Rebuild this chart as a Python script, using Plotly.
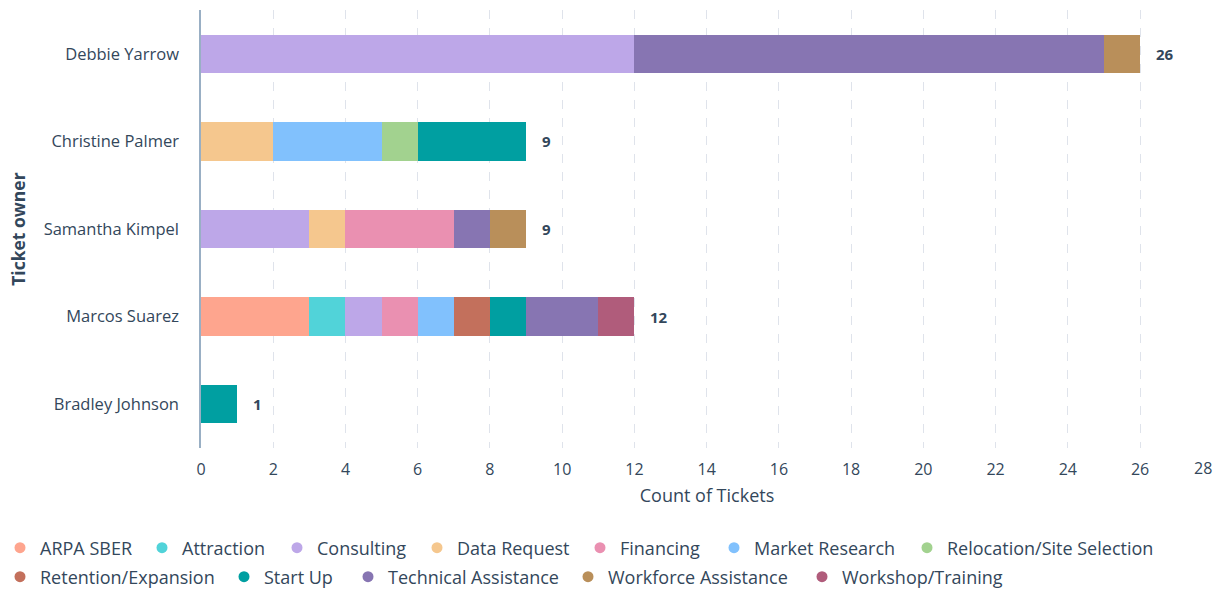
import plotly.graph_objects as go

owners = ["Bradley Johnson", "Marcos Suarez", "Samantha Kimpel", "Christine Palmer", "Debbie Yarrow"]

categories = ["ARPA SBER", "Attraction", "Consulting", "Data Request", "Financing",
              "Market Research", "Relocation/Site Selection", "Retention/Expansion",
              "Start Up", "Technical Assistance", "Workforce Assistance", "Workshop/Training"]

# values per category, in owner order above
arpa_sber = [0, 3, 0, 0, 0]
attraction = [0, 1, 0, 0, 0]
consulting = [0, 1, 3, 0, 12]
data_request = [0, 0, 1, 2, 0]
financing = [0, 1, 3, 0, 0]
market_research = [0, 1, 0, 3, 0]
relocation = [0, 0, 0, 1, 0]
retention = [0, 1, 0, 0, 0]
start_up = [1, 1, 0, 3, 0]
technical_assistance = [0, 2, 1, 0, 13]
workforce_assistance = [0, 0, 1, 0, 1]
workshop_training = [0, 1, 0, 0, 0]

series = [arpa_sber, attraction, consulting, data_request, financing, market_research,
          relocation, retention, start_up, technical_assistance, workforce_assistance,
          workshop_training]

colors = ["#FEA58E", "#51D3D9", "#BDA7E8", "#F5C78E", "#EA90B1", "#81C1FD",
          "#A2D28F", "#C3705C", "#009FA1", "#8775B2", "#B98F5A", "#B05C7B"]

x_ticks = list(range(0, 29, 2))
x_tick_labels = [str(v) for v in x_ticks]

# legend layout: text start (px) and row of each entry
legend_text_x = [35, 182, 317, 457, 620, 754, 947, 35, 264, 388, 608, 842]
legend_row = [0, 0, 0, 0, 0, 0, 0, 1, 1, 1, 1, 1]
row_center_px = [548, 577]

TEXT = "#33475B"
FONT = "Open Sans"
W, H = 1218, 590

fig = go.Figure()
legend_layouts = {}
for i, (name, vals, col) in enumerate(zip(categories, series, colors)):
    fig.add_trace(go.Bar(
        y=owners, x=vals, name=name, orientation="h",
        marker=dict(color=col, line=dict(width=0)),
        width=0.44, showlegend=False,
    ))
    lid = "legend" if i == 0 else f"legend{i + 1}"
    fig.add_trace(go.Scatter(
        x=[None], y=[None], mode="markers", name=name,
        marker=dict(symbol="circle", size=11, color=col),
        showlegend=True, legend=lid,
    ))
    legend_layouts[lid] = dict(
        orientation="h", xref="container", yref="container",
        xanchor="left", yanchor="middle",
        x=max(legend_text_x[i] - 40, 0) / W,
        y=(H - row_center_px[legend_row[i]]) / H,
        font=dict(family=FONT, size=18, color=TEXT),
        bgcolor="rgba(0,0,0,0)", borderwidth=0,
    )

totals = [sum(s[i] for s in series) for i in range(len(owners))]
for o, t in zip(owners, totals):
    fig.add_annotation(x=t, y=o, text=f"<b>{t}</b>", showarrow=False,
                       xanchor="left", xshift=14,
                       font=dict(family=FONT, size=15, color=TEXT))

fig.add_annotation(xref="paper", yref="paper", x=-0.181, y=0.5, text="<b>Ticket owner</b>",
                   textangle=-90, showarrow=False, xanchor="center", yanchor="middle",
                   font=dict(family=FONT, size=17.5, color=TEXT))

# last x tick label is drawn right-aligned at its tick so it stays inside the page
x_tick_text = x_tick_labels[:-1] + [""]
fig.add_annotation(x=x_ticks[-1], xref="x", y=0, yref="paper", text=x_tick_labels[-1],
                   showarrow=False, xanchor="right", yanchor="middle", xshift=2, yshift=-20,
                   font=dict(family=FONT, size=16, color=TEXT))

fig.update_layout(
    barmode="stack",
    width=W, height=H,
    margin=dict(l=201, r=5, t=10, b=142, autoexpand=False),
    plot_bgcolor="white", paper_bgcolor="white",
    font=dict(family=FONT, size=15, color=TEXT),
    xaxis=dict(
        range=[0, 28.02], tickvals=x_ticks, ticktext=x_tick_text,
        showgrid=True, gridcolor="#DFE3EB", griddash="dash", gridwidth=1,
        zeroline=False, showline=False, ticks="", automargin=False,
        ticklabelstandoff=10,
        tickfont=dict(family=FONT, size=16, color=TEXT),
        title=dict(text="Count of Tickets", font=dict(family=FONT, size=18, color=TEXT), standoff=10),
    ),
    yaxis=dict(
        categoryorder="array", categoryarray=owners, range=[-0.5, 4.5],
        showgrid=False, zeroline=False, showline=True, linecolor="#99AFC4", linewidth=1.5,
        ticks="", automargin=False, ticklabelstandoff=17,
        tickfont=dict(family=FONT, size=16.5, color=TEXT),
    ),
    **legend_layouts,
)

fig.write_html("out.html", config={"displayModeBar": False},
               post_script="document.body.style.margin='0';document.body.style.overflow='hidden';")
